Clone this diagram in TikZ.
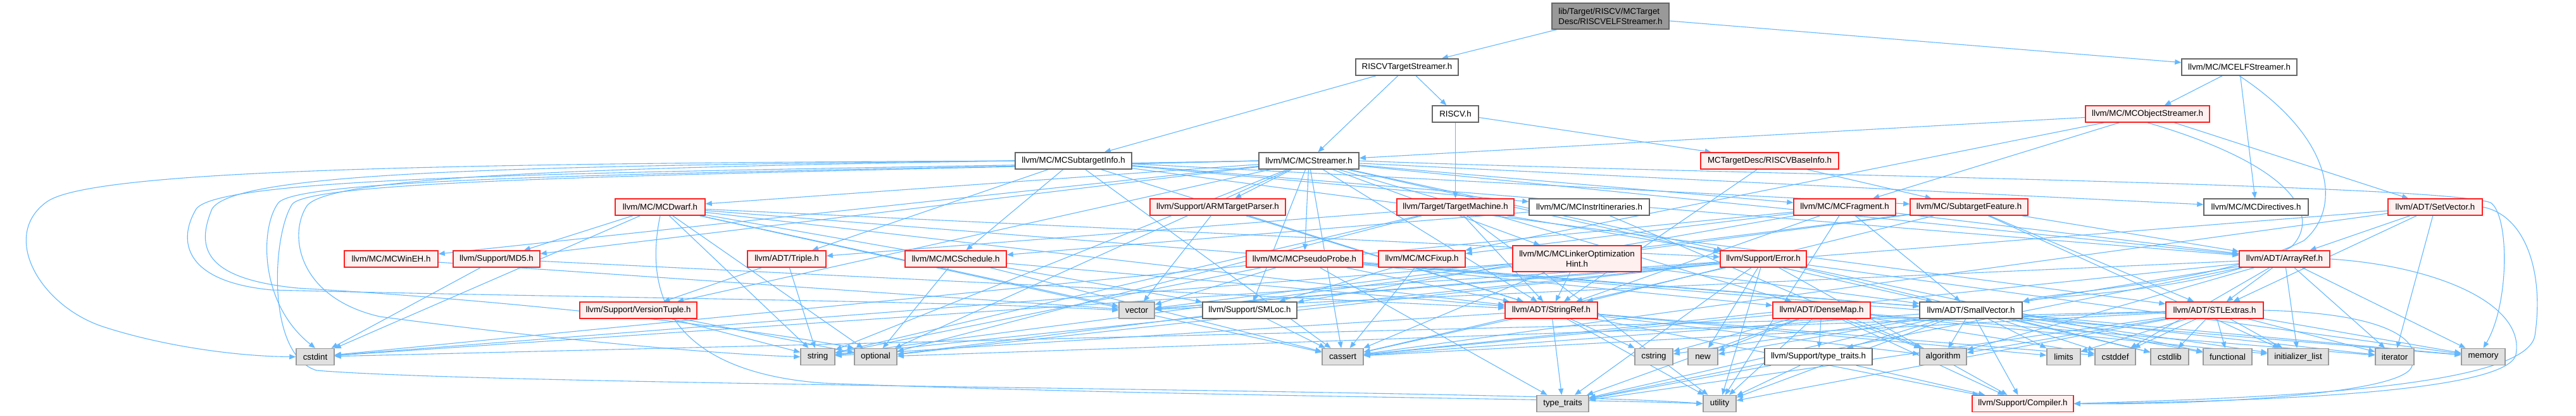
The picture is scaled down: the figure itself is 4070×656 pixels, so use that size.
\documentclass[tikz,border=0pt]{standalone}
\usepackage{fontspec}
\setmainfont{Liberation Sans}
\usetikzlibrary{arrows.meta}
\definecolor{edgec}{HTML}{63B8FF}
\definecolor{redb}{HTML}{FF2020}
\definecolor{redf}{HTML}{FFF0F0}
\definecolor{grayf}{HTML}{E0E0E0}
\definecolor{grayb}{HTML}{999999}
\definecolor{darkb}{HTML}{666666}
\definecolor{rootf}{HTML}{999999}
\pgfdeclarelayer{bg}
\pgfsetlayers{bg,main}
\begin{document}
\begin{tikzpicture}[x=1pt,y=-1pt,
  box/.style={draw, line width=1.5pt, minimum height=26pt, inner sep=0pt, font=\fontsize{13.3}{16}\selectfont, align=center},
  wbox/.style={box, draw=darkb, fill=white},
  rbox/.style={box, draw=redb, fill=redf},
  gbox/.style={box, draw=grayb, fill=grayf},
  rootbox/.style={box, draw=darkb, fill=rootf, minimum height=41pt, align=left},
  dep/.style={draw=edgec, line width=1.1pt, -{Triangle[length=10pt,width=8pt]}},
]
\useasboundingbox (0,0) rectangle (4070,656);
% rows 0-3
\node[rootbox, minimum width=185pt] (root) at (2544.5,25.5) {lib/Target/RISCV/MCTarget\\Desc/RISCVELFStreamer.h};
\node[wbox, minimum width=162pt] (rts) at (2223,106) {RISCVTargetStreamer.h};
\node[wbox, minimum width=182pt] (elf) at (3538,106) {llvm/MC/MCELFStreamer.h};
\node[wbox, minimum width=73pt] (riscv) at (2299.5,180) {RISCV.h};
\node[rbox, minimum width=196pt] (objs) at (3393,180) {llvm/MC/MCObjectStreamer.h};
\node[wbox, minimum width=184pt] (sti) at (1696,254) {llvm/MC/MCSubtargetInfo.h};
\node[wbox, minimum width=158pt] (mcs) at (2068,254) {llvm/MC/MCStreamer.h};
\node[rbox, minimum width=218pt] (rbi) at (2796,254) {MCTargetDesc/RISCVBaseInfo.h};
% row y=327
\node[rbox, minimum width=142pt] (dwarf) at (1043,327) {llvm/MC/MCDwarf.h};
\node[rbox, minimum width=214pt] (arm) at (1924,327) {llvm/Support/ARMTargetParser.h};
\node[rbox, minimum width=185pt] (tm) at (2299.5,327) {llvm/Target/TargetMachine.h};
\node[wbox, minimum width=190pt] (itin) at (2511,327) {llvm/MC/MCInstrItineraries.h};
\node[rbox, minimum width=161pt] (frag) at (2914.5,327) {llvm/MC/MCFragment.h};
\node[rbox, minimum width=186pt] (stf) at (3111,327) {llvm/MC/SubtargetFeature.h};
\node[wbox, minimum width=165pt] (dir) at (3564.5,327) {llvm/MC/MCDirectives.h};
\node[rbox, minimum width=149pt] (setv) at (3847.5,327) {llvm/ADT/SetVector.h};
% row y=409
\node[rbox, minimum width=148pt] (wineh) at (618,409) {llvm/MC/MCWinEH.h};
\node[rbox, minimum width=137pt] (md5) at (784.5,409) {llvm/Support/MD5.h};
\node[rbox, minimum width=124pt] (triple) at (1243,409) {llvm/ADT/Triple.h};
\node[rbox, minimum width=160pt] (sched) at (1510,409) {llvm/MC/MCSchedule.h};
\node[rbox, minimum width=184pt] (probe) at (2061,409) {llvm/MC/MCPseudoProbe.h};
\node[rbox, minimum width=137pt] (fixup) at (2246.5,409) {llvm/MC/MCFixup.h};
\node[rbox, minimum width=203pt, minimum height=41pt] (lohint) at (2491.5,408.5) {llvm/MC/MCLinkerOptimization\\Hint.h};
\node[rbox, minimum width=136pt] (error) at (2786,409) {llvm/Support/Error.h};
\node[rbox, minimum width=143pt] (aref) at (3609.5,409) {llvm/ADT/ArrayRef.h};
% row y=490
\node[rbox, minimum width=185pt] (vtuple) at (1008.5,490) {llvm/Support/VersionTuple.h};
\node[gbox, minimum width=56pt] (vector) at (1796,490) {vector};
\node[wbox, minimum width=149pt] (smloc) at (1974.5,490) {llvm/Support/SMLoc.h};
\node[rbox, minimum width=146pt] (sref) at (2451,490) {llvm/ADT/StringRef.h};
\node[rbox, minimum width=154pt] (dmap) at (2878,490) {llvm/ADT/DenseMap.h};
\node[wbox, minimum width=162pt] (svec) at (3114,490) {llvm/ADT/SmallVector.h};
\node[rbox, minimum width=154pt] (stl) at (3499,490) {llvm/ADT/STLExtras.h};
% row y=563.5
\node[gbox, minimum width=60pt] (cstdint) at (498,563.5) {cstdint};
\node[gbox, minimum width=54pt] (string) at (1292,563.5) {string};
\node[gbox, minimum width=67pt] (optional) at (1383.5,563.5) {optional};
\node[gbox, minimum width=65pt] (cassert) at (2121.5,563.5) {cassert};
\node[gbox, minimum width=60pt] (cstring) at (2613,563.5) {cstring};
\node[gbox, minimum width=47pt] (new) at (2690.5,563.5) {new};
\node[wbox, minimum width=170pt] (tt) at (2873,563.5) {llvm/Support/type\_traits.h};
\node[gbox, minimum width=74pt] (algorithm) at (3070,563.5) {algorithm};
\node[gbox, minimum width=53pt] (limits) at (3260.5,563.5) {limits};
\node[gbox, minimum width=64pt] (cstddef) at (3342,563.5) {cstddef};
\node[gbox, minimum width=60pt] (cstdlib) at (3428,563.5) {cstdlib};
\node[gbox, minimum width=77pt] (functional) at (3519.5,563.5) {functional};
\node[gbox, minimum width=96pt] (initlist) at (3631,563.5) {initializer\_list};
\node[gbox, minimum width=61pt] (iterator) at (3783.5,563.5) {iterator};
\node[gbox, minimum width=69pt] (memory) at (3923.5,563.5) {memory};
% row y=637.5
\node[gbox, minimum width=82pt] (typetraits) at (2469,637.5) {type\_traits};
\node[gbox, minimum width=52pt] (utility) at (2717,637.5) {utility};
\node[rbox, minimum width=160pt] (compiler) at (3196,637.5) {llvm/Support/Compiler.h};

\begin{pgfonlayer}{bg}
\foreach \a/\b in {root/rts, root/elf,
  rts/sti, rts/mcs, rts/riscv, riscv/rbi, riscv/tm,
  elf/objs, elf/dir, objs/mcs, objs/fixup, objs/frag, objs/setv,
  mcs/aref, mcs/dmap, mcs/svec, mcs/sref, mcs/dir, mcs/dwarf, mcs/lohint, mcs/probe, mcs/wineh, mcs/arm, mcs/error, mcs/md5, mcs/smloc, mcs/vtuple, mcs/frag, mcs/cassert, mcs/optional, mcs/string,
  sti/aref, sti/stl, sti/sref, sti/triple, sti/itin, sti/sched, sti/stf, sti/cassert,
  rbi/sref, rbi/stf,
  tm/sref, tm/triple, tm/error, tm/optional, tm/string, tm/utility,
  dwarf/svec, dwarf/sref, dwarf/error, dwarf/md5, dwarf/smloc, dwarf/cassert, dwarf/cstdint, dwarf/optional, dwarf/string, dwarf/vector,
  arm/sref, arm/vector, itin/sched, itin/algorithm,
  frag/aref, frag/svec, frag/sref, frag/fixup, frag/smloc, frag/cstdint, frag/utility,
  stf/aref, stf/stl, stf/sref, stf/initlist, stf/string, stf/vector,
  setv/aref, setv/stl, setv/cassert, setv/iterator, setv/vector,
  wineh/vector, md5/sref, md5/cstdint, triple/vtuple, triple/string,
  sched/sref, sched/cassert, sched/optional,
  probe/dmap, probe/svec, probe/sref, probe/memory, probe/string, probe/typetraits, probe/vector,
  fixup/cassert, fixup/smloc, lohint/svec, lohint/sref, lohint/cassert, lohint/cstdint,
  error/compiler, error/cassert, error/cstdint, error/cstdlib, error/functional, error/memory, error/new, error/optional, error/string, error/typetraits, error/utility, error/vector,
  aref/stl, aref/svec, aref/algorithm, aref/cassert, aref/cstddef, aref/initlist, aref/iterator, aref/memory, aref/typetraits, aref/vector,
  vtuple/optional, vtuple/string, smloc/cassert, smloc/optional,
  sref/compiler, sref/algorithm, sref/cassert, sref/cstddef, sref/cstring, sref/limits, sref/string, sref/typetraits, sref/utility,
  dmap/tt, dmap/compiler, dmap/algorithm, dmap/cassert, dmap/cstddef, dmap/cstring, dmap/initlist, dmap/iterator, dmap/new, dmap/typetraits, dmap/utility,
  svec/tt, svec/compiler, svec/algorithm, svec/cassert, svec/cstddef, svec/cstdlib, svec/cstring, svec/functional, svec/initlist, svec/iterator, svec/limits, svec/memory, svec/new, svec/typetraits, svec/utility,
  stl/algorithm, stl/cassert, stl/cstddef, stl/cstdint, stl/cstdlib, stl/functional, stl/initlist, stl/iterator, stl/limits, stl/memory, stl/optional, stl/typetraits, stl/utility,
  tt/compiler, tt/typetraits, tt/utility}
  \draw[dep] (\a) -- (\b);
% routed edges
\draw[dep] (sti.west) .. controls (700,258) and (150,268) .. (75,318) .. controls (0,370) and (60,480) .. (160,515) .. controls (260,548) and (380,563) .. (cstdint.west);
\draw[dep] (mcs.west) .. controls (1000,272) and (350,275) .. (310,330) .. controls (280,380) and (290,445) .. (430,458) .. controls (900,470) and (1500,475) .. (vector.west);
\draw[dep] (sti.west) .. controls (800,262) and (370,272) .. (335,330) .. controls (310,390) and (320,440) .. (470,455) .. controls (900,480) and (1250,530) .. (optional.north west);
\draw[dep] (mcs.west) .. controls (1100,274) and (480,278) .. (440,320) .. controls (410,360) and (410,480) .. (cstdint.north);
\draw[dep] (mcs.west) .. controls (1100,276) and (500,282) .. (462,322) .. controls (430,370) and (420,560) .. (500,585) .. controls (800,610) and (2400,615) .. (utility.west);
\draw[dep] (sti.west) .. controls (900,265) and (520,280) .. (485,325) .. controls (455,370) and (470,470) .. (600,500) .. controls (900,540) and (1150,560) .. (string.west);
\draw[dep] (dwarf.south) .. controls (1010,500) and (1100,590) .. (1300,605) .. controls (1800,625) and (2500,630) .. (utility.west);
\draw[dep] (mcs.east) .. controls (2700,275) and (3850,290) .. (3935,320) .. controls (3965,340) and (3965,480) .. (memory.north);
\draw[dep] (setv.east) .. controls (3990,340) and (4020,430) .. (4005,530) .. controls (3990,620) and (3500,630) .. (compiler.east);
\draw[dep] (aref.east) .. controls (3850,420) and (3990,480) .. (3975,560) .. controls (3960,625) and (3500,635) .. (compiler.east);
\draw[dep] (stl.east) .. controls (3780,495) and (3830,540) .. (3810,580) .. controls (3790,625) and (3450,640) .. (compiler.east);
\draw[dep] (elf.south) .. controls (3690,220) and (3700,330) .. (3640,380) .. controls (3500,450) and (3250,460) .. (svec.north east);
\draw[dep] (objs.south) .. controls (3620,260) and (3670,340) .. (3620,390) .. controls (3500,460) and (3260,465) .. (svec.north east);
\end{pgfonlayer}
\end{tikzpicture}
\end{document}
